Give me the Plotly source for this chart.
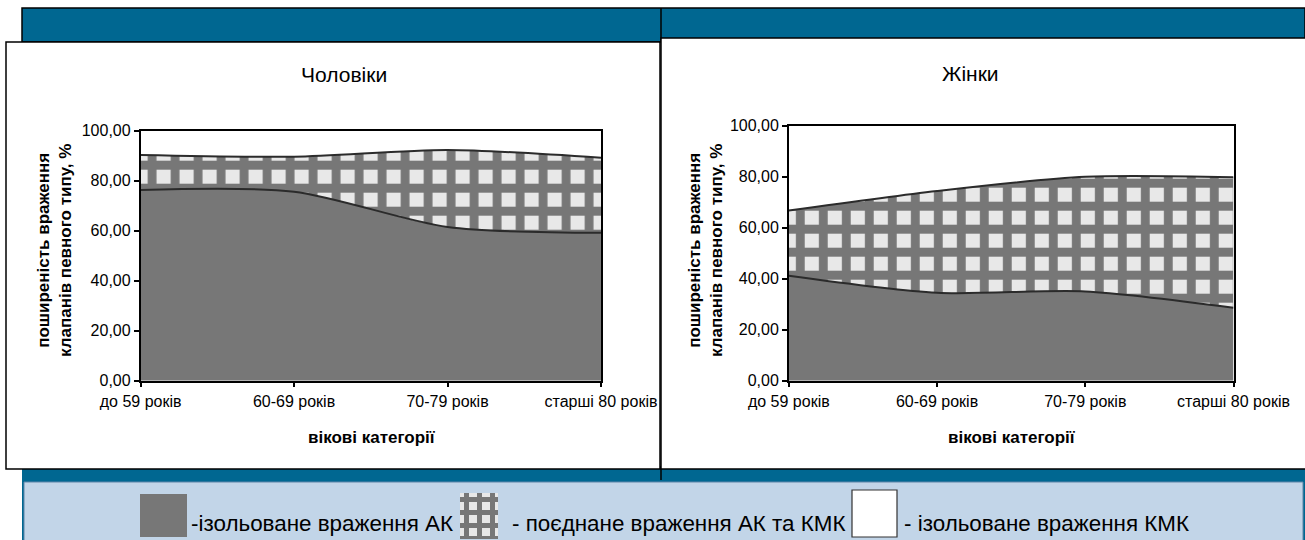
import numpy as np
import plotly.graph_objects as go

W, H = 1305, 540

# Age groups on the horizontal axis
categories = ["до 59 років", "60-69 років", "70-79 років", "старші 80 років"]

# Men: share of each valve lesion type, %
men_ak = [76.3, 75.6, 61.5, 59.2]        # isolated aortic valve lesion
men_both = [14.0, 14.0, 30.8, 30.0]      # combined aortic + mitral lesion
men_kmk = [9.7, 10.4, 7.7, 10.8]         # isolated mitral valve lesion

# Women: share of each valve lesion type, %
women_ak = [41.2, 34.5, 35.0, 28.6]
women_both = [25.5, 39.9, 45.0, 51.2]
women_kmk = [33.3, 25.6, 20.0, 20.2]

y_ticks = [0, 20, 40, 60, 80, 100]

GRAY = "#777777"
LINE = "#2b2b2b"
BLUE = "#006791"
LIGHT = "#c2d5e8"
FONT = "Liberation Sans, Arial, sans-serif"


def px_x(v):
    return v / W


def px_y(v):
    return 1 - v / H


# light cells separated by gray lines
pattern = dict(shape="+", fgcolor=GRAY, bgcolor="#e8e8e8", size=23, solidity=0.62, fgopacity=1)

fig = go.Figure()

x_idx = list(range(len(categories)))


def add_panel(ak, both, kmk, xa, ya):
    common = dict(x=x_idx, xaxis=xa, yaxis=ya, stackgroup=ya, mode="lines",
                  showlegend=False, hoverinfo="skip")
    fig.add_trace(go.Scatter(y=ak, fillcolor=GRAY,
                             line=dict(color=LINE, width=2, shape="spline", smoothing=0.8),
                             **common))
    fig.add_trace(go.Scatter(y=both, fillpattern=pattern, fillcolor=GRAY,
                             line=dict(color=LINE, width=2, shape="spline", smoothing=0.8),
                             **common))
    fig.add_trace(go.Scatter(y=kmk, fillcolor="white",
                             line=dict(color="black", width=0, shape="spline", smoothing=0.8),
                             **common))


add_panel(men_ak, men_both, men_kmk, "x", "y")
add_panel(women_ak, women_both, women_kmk, "x2", "y2")

# Patterned legend swatch drawn on its own small axis pair
fig.add_trace(go.Scatter(x=[0, 1, 1, 0, 0], y=[0, 0, 1, 1, 0], xaxis="x3", yaxis="y3",
                         fill="toself", fillcolor=GRAY, fillpattern=dict(pattern, size=13),
                         mode="lines", line=dict(width=0), showlegend=False, hoverinfo="skip"))

xaxis_style = dict(range=[0, 3], tickmode="array", tickvals=x_idx, ticktext=categories,
                   ticks="outside", ticklen=5, tickwidth=1.5, tickcolor="black",
                   showline=True, linecolor="black", linewidth=1.5, mirror=True,
                   showgrid=False, zeroline=False, fixedrange=True, automargin=False,
                   tickfont=dict(family=FONT, size=16, color="black"))
yaxis_style = dict(range=[0, 100], tickmode="array", tickvals=y_ticks, tickformat=".2f",
                   ticks="outside", ticklen=5, tickwidth=1.5, tickcolor="black",
                   showline=True, linecolor="black", linewidth=1.5, mirror=True,
                   showgrid=False, zeroline=False, fixedrange=True, automargin=False,
                   tickfont=dict(family=FONT, size=16, color="black"))

fig.update_layout(
    width=W, height=H,
    autosize=False,
    margin=dict(l=0, r=0, t=0, b=0, pad=0, autoexpand=False),
    paper_bgcolor="white", plot_bgcolor="white",
    separators=", ",
    xaxis=dict(xaxis_style, domain=[px_x(140.6), px_x(601)], anchor="y"),
    yaxis=dict(yaxis_style, domain=[px_y(380.7), px_y(130.7)], anchor="x"),
    xaxis2=dict(xaxis_style, domain=[px_x(788.8), px_x(1233.5)], anchor="y2"),
    yaxis2=dict(yaxis_style, domain=[px_y(380.7), px_y(125.7)], anchor="x2"),
    xaxis3=dict(domain=[px_x(460), px_x(498)], range=[0, 1], visible=False, anchor="y3", fixedrange=True),
    yaxis3=dict(domain=[px_y(539), px_y(493)], range=[0, 1], visible=False, anchor="x3", fixedrange=True),
)

shapes = [
    # header bar
    dict(type="rect", x0=22, x1=W, y0=8, y1=42, fillcolor=BLUE, line=dict(color="black", width=1.5)),
    dict(type="line", x0=661, x1=661, y0=8, y1=42, line=dict(color="black", width=1.5)),
    # bottom band and legend box
    dict(type="rect", x0=22, x1=W, y0=466, y1=H, fillcolor=BLUE, line=dict(width=0)),
    dict(type="rect", x0=24, x1=W - 2, y0=482, y1=H + 2, fillcolor=LIGHT, line=dict(color="#5f86a8", width=1)),
    dict(type="line", x0=661, x1=661, y0=466, y1=480, line=dict(color="black", width=1.5)),
    # chart panels
    dict(type="rect", x0=6, x1=660, y0=42, y1=469, fillcolor="white", line=dict(color="black", width=1.5)),
    dict(type="rect", x0=661, x1=W + 2, y0=38, y1=469, fillcolor="white", line=dict(color="black", width=1.5)),
    # legend swatches
    dict(type="rect", x0=140, x1=187, y0=494, y1=537, fillcolor=GRAY, line=dict(width=0)),
    dict(type="rect", x0=852, x1=897, y0=490, y1=537, fillcolor="white", line=dict(color="#333333", width=1.2)),
]
for s in shapes:
    s.update(xref="paper", yref="paper", layer="below")
    s["x0"], s["x1"] = px_x(s["x0"]), px_x(s["x1"])
    s["y0"], s["y1"] = px_y(s["y0"]), px_y(s["y1"])
fig.update_layout(shapes=shapes)


def note(text, x, y, size=14, bold=False, angle=0, xanchor="center"):
    fig.add_annotation(text=f"<b>{text}</b>" if bold else text,
                       x=px_x(x), y=px_y(y), xref="paper", yref="paper",
                       xanchor=xanchor, yanchor="middle", showarrow=False, textangle=angle,
                       font=dict(family=FONT, size=size, color="black"))


note("Чоловіки", 344, 75, size=21)
note("Жінки", 970, 73, size=21)
note("вікові категорії", 372, 437, size=17, bold=True)
note("вікові категорії", 1012, 437, size=17, bold=True)
note("поширеність враження<br>клапанів певного типу, %", 54, 251, size=17, bold=True, angle=-90)
note("поширеність враження<br>клапанів певного типу, %", 705, 251, size=17, bold=True, angle=-90)

note("-ізольоване враження АК", 189, 523, size=22.4, xanchor="left")
note("- поєднане враження АК та КМК", 510, 523, size=22.4, xanchor="left")
note("- ізольоване враження КМК", 902, 523, size=22.4, xanchor="left")

fig.write_html("out.html")
